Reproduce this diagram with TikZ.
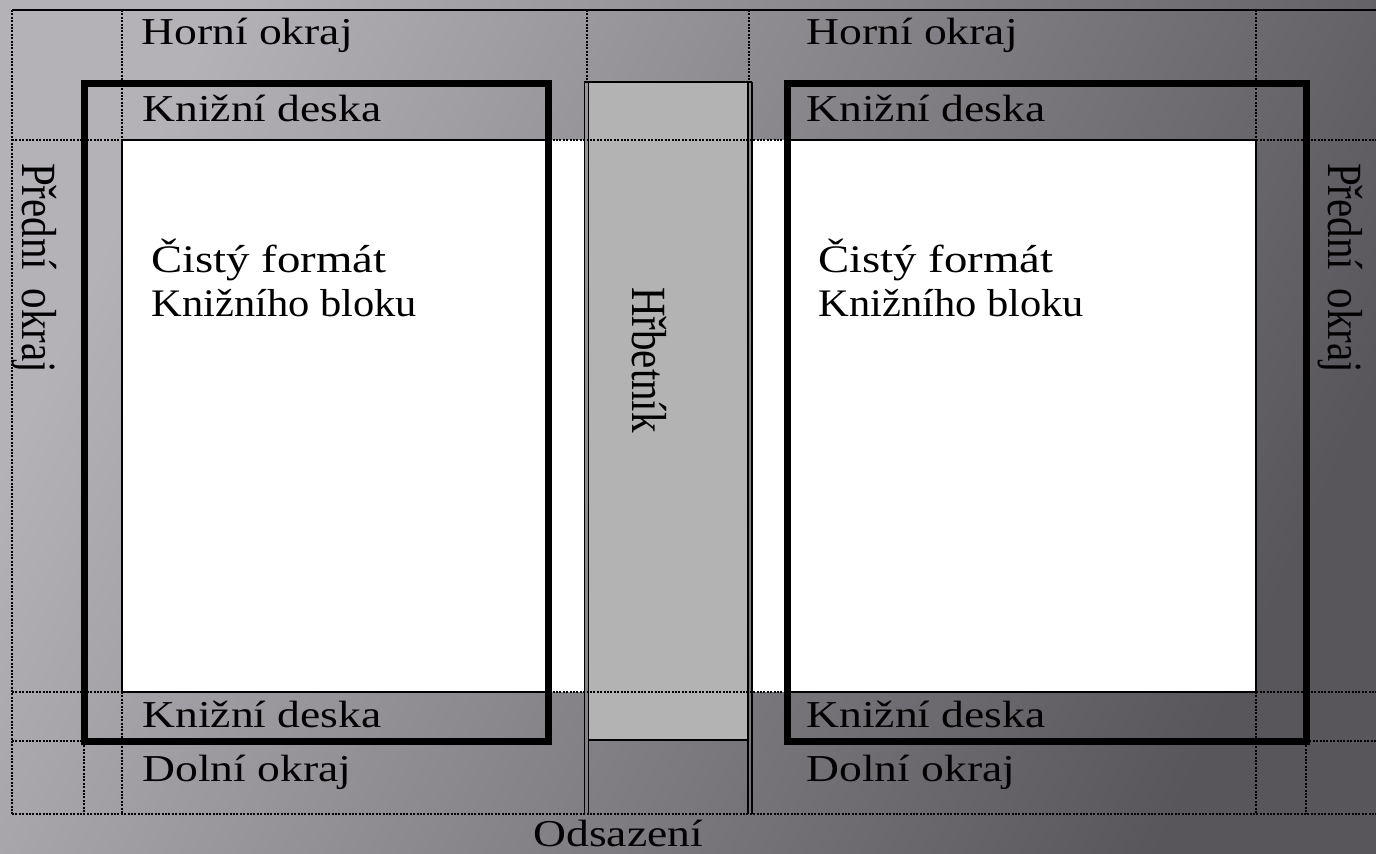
\documentclass[tikz,border=0pt]{standalone}
\usepackage{fontspec}
\setmainfont{Liberation Serif}
\usepackage{graphicx}
\usetikzlibrary{positioning}
\definecolor{pozadiA}{HTML}{B4B2B7}
\definecolor{pozadiB}{HTML}{6F6D72}
\definecolor{pozadiC}{HTML}{58565B}
\definecolor{hrbet}{HTML}{B3B3B3}
\newcommand{\siroky}[2][1.2]{\scalebox{#1}[1]{#2}} % text stretched sideways
\newcommand{\vysoky}[1]{\scalebox{1}[1.2]{#1}} % same for rotated text
\tikzset{
  plan/.style={
	x=0.5pt, y=-0.5pt, % one unit is one pixel, y runs down
	line join=miter,
  },
  tecky/.style={draw=black, line width=1pt, dash pattern=on 1pt off 0.7pt}, % dotted grid
  tenka/.style={draw=black, line width=0.9pt}, % thin solid edges
  deska/.style={draw=black, line width=3.5pt}, % thick board frame
  popis/.style={font=\fontsize{19}{22}\selectfont, inner sep=0pt, anchor=base west},
  blok/.style={font=\fontsize{19.5}{22}\selectfont, inner sep=0pt, anchor=base west},
  bok/.style={font=\fontsize{20.5}{24}\selectfont, inner sep=0pt, anchor=base, rotate=-90},
}
\begin{document}
\begin{tikzpicture}[plan]
\useasboundingbox (0,0) rectangle (1376,854);
\shade[left color=pozadiA, middle color=pozadiB, right color=pozadiC, shading angle=65] (0,0) rectangle (1376,854);
% pages and spine
\fill[white] (122,140) rectangle (585,692);
\fill[white] (752,140) rectangle (1256,692);
\fill[hrbet] (588,82) rectangle (748,740);
\draw[tenka] (584,82) -- (752,82);
\draw[tenka] (588,740) -- (748,740);
\foreach \x in {584.5,588.5,748,752}
  \draw[tenka, line width=0.7pt] (\x,82) -- (\x,814);
\draw[tenka] (548,140) -- (122,140) -- (122,692) -- (548,692);
\draw[tenka] (787,140) -- (1256,140) -- (1256,692) -- (787,692);
% dotted grid
\draw[tecky] (12,10) -- (12,814);
\foreach \y in {140,692,814}
  \draw[tecky] (12,\y) -- (1376,\y);
\draw[tecky] (12,741) -- (84,741);
\draw[tecky] (1306,741) -- (1376,741);
\foreach \x in {122,1256} {
  \draw[tecky] (\x,10) -- (\x,140);
  \draw[tecky] (\x,692) -- (\x,814);
}
\foreach \x in {587,749}
  \draw[tecky] (\x,10) -- (\x,82);
\foreach \x in {84,1306}
  \draw[tecky] (\x,742) -- (\x,814);
\draw[tenka] (12,10) -- (1376,10);
% boards
\draw[deska] (84,84) rectangle (548,742);
\draw[deska] (787,84) rectangle (1306,742);
% labels
\node[popis] (hornL) at (141,45) {\siroky{Horní okraj}};
\node[popis] (hornP) at (806,45) {\siroky{Horní okraj}};
\node[popis] (deskaHL) at (142,122) {\siroky{Knižní deska}};
\node[popis] (deskaHP) at (806,122) {\siroky{Knižní deska}};
\node[popis] (deskaDL) at (142,728) {\siroky{Knižní deska}};
\node[popis] (deskaDP) at (806,728) {\siroky{Knižní deska}};
\node[popis] (dolL) at (142,782) {\siroky{Dolní okraj}};
\node[popis] (dolP) at (806,782) {\siroky{Dolní okraj}};
\node[blok] (cistyL) at (151,273) {\siroky{Čistý formát}};
\node[blok, yshift=-22pt] (blokL) at (cistyL.base west) {\siroky[1.09]{Knižního bloku}};
\node[blok] (cistyP) at (818,273) {\siroky{Čistý formát}};
\node[blok, yshift=-22pt] (blokP) at (cistyP.base west) {\siroky[1.09]{Knižního bloku}};
\node[popis] (odsaz) at (533,847) {\siroky{Odsazení}};
\node[bok] (hrbetnik) at (632,360) {\vysoky{Hřbetník}};
\node[bok] (predL) at (22,268) {\vysoky{Přední\hspace{0.45em}okraj}};
\node[bok] (predP) at (1328,268) {\vysoky{Přední\hspace{0.45em}okraj}};
\end{tikzpicture}
\end{document}
